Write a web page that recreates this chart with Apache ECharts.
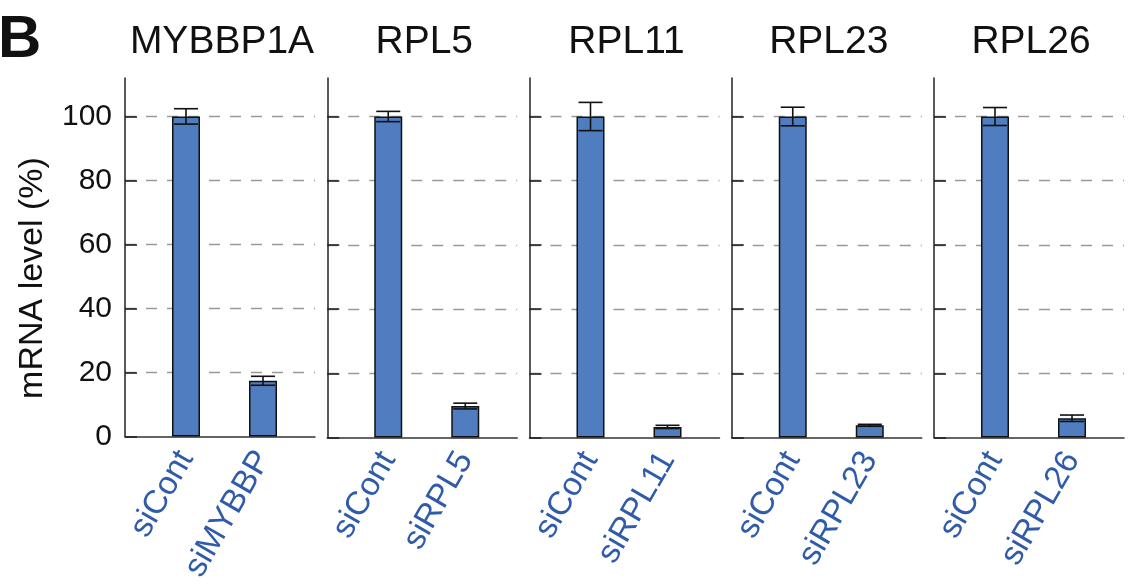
<!DOCTYPE html>
<html>
<head>
<meta charset="utf-8">
<script src="https://cdn.jsdelivr.net/npm/echarts@6/dist/echarts.min.js"></script>
<style>
html,body{margin:0;padding:0;background:#fff;}
#chart{width:1145px;height:585px;}
</style>
</head>
<body>
<div id="chart"></div>
<script>
// ---- data ----
const genes = ['MYBBP1A', 'RPL5', 'RPL11', 'RPL23', 'RPL26'];
const ctrlLabels = ['siCont', 'siCont', 'siCont', 'siCont', 'siCont'];
const kdLabels = ['siMYBBP', 'siRPL5', 'siRPL11', 'siRPL23', 'siRPL26'];
const ctrlMean = [100, 100, 100, 100, 100];
const ctrlErr = [2.4, 1.6, 4.4, 2.9, 2.8];
const kdMean = [17.4, 9.8, 3.3, 3.8, 6.0];
const kdErr = [1.4, 0.9, 0.5, 0.3, 1.0];
const yTicks = [0, 20, 40, 60, 80, 100];
const yTitle = 'mRNA level (%)';
const panelLetter = 'B';

// ---- layout ----
const FONT = '"Liberation Sans", Arial, sans-serif';
const BAR = '#4F7DC0';
const LBL = '#2F5BAA';
const panelLeft0 = 125, panelStep = 202.25, panelW = 190;
const gridTop = 78, gridBottom = 147.5;

const grids = [], xAxes = [], yAxes = [], series = [], titles = [];
genes.forEach((g, i) => {
  const left = panelLeft0 + i * panelStep;
  grids.push({ left: left, top: gridTop, width: panelW, bottom: gridBottom, containLabel: false });
  const names = [ctrlLabels[i], kdLabels[i]];
  xAxes.push({
    gridIndex: i, type: 'value', min: -0.792, max: 1.675,
    axisLine: { show: true, onZero: false, lineStyle: { color: '#333', width: 1.5 } },
    axisTick: { show: false },
    splitLine: { show: false },
    axisLabel: {
      customValues: [0, 1],
      formatter: v => names[Math.round(v)],
      rotate: 60, margin: 17, fontSize: 33, fontFamily: FONT, color: LBL
    }
  });
  yAxes.push({
    gridIndex: i, type: 'value', min: 0, max: 112,
    axisLine: { show: true, onZero: false, lineStyle: { color: '#222', width: 1.5 } },
    axisTick: { show: true, inside: true, length: 12, customValues: yTicks, lineStyle: { color: '#222', width: 1.6 } },
    axisLabel: { show: i === 0, customValues: yTicks, margin: 13, fontSize: 30, fontFamily: FONT, color: '#111' },
    splitLine: { show: true, showMaxLine: true, showMinLine: false, lineStyle: { color: '#999', width: 1.3, type: [11, 10] } }
  });
  series.push({
    type: 'bar', xAxisIndex: i, yAxisIndex: i, barWidth: 28,
    itemStyle: { color: BAR, borderColor: '#111', borderWidth: 1.5 },
    data: [[0, ctrlMean[i]], [1, kdMean[i]]],
    z: 2
  });
  series.push({
    type: 'custom', xAxisIndex: i, yAxisIndex: i, z: 5,
    data: [[0, ctrlMean[i], ctrlErr[i]], [1, kdMean[i], kdErr[i]]],
    renderItem: function (params, api) {
      const x = api.value(0), m = api.value(1), e = api.value(2);
      const hi = api.coord([x, m + e]);
      const lo = api.coord([x, m - e]);
      const hw = 12;
      const st = { stroke: '#111', lineWidth: 1.6, fill: null };
      return {
        type: 'group', children: [
          { type: 'line', shape: { x1: hi[0], y1: hi[1], x2: lo[0], y2: lo[1] }, style: st },
          { type: 'line', shape: { x1: hi[0] - hw, y1: hi[1], x2: hi[0] + hw, y2: hi[1] }, style: st },
          { type: 'line', shape: { x1: lo[0] - hw, y1: lo[1], x2: lo[0] + hw, y2: lo[1] }, style: st }
        ]
      };
    }
  });
  titles.push({
    text: g, left: left + panelW / 2 + 2, top: 23, padding: 0, textAlign: 'center',
    textStyle: { fontSize: 39, fontWeight: 'normal', fontFamily: FONT, color: '#111' }
  });
});
titles.push({ text: panelLetter, left: -2, top: 10, padding: 0, textStyle: { fontSize: 60, fontWeight: 'bold', fontFamily: FONT, color: '#111' } });

const chart = echarts.init(document.getElementById('chart'), null, { renderer: 'canvas' });
chart.setOption({
  animation: false,
  backgroundColor: '#fff',
  title: titles,
  grid: grids,
  xAxis: xAxes,
  yAxis: yAxes,
  series: series,
  graphic: [{
    type: 'text', x: 33, y: 278, rotation: Math.PI / 2,
    style: { text: yTitle, fontSize: 34, fontFamily: FONT, fill: '#111', align: 'center', verticalAlign: 'middle' }
  }]
});
</script>
</body>
</html>
